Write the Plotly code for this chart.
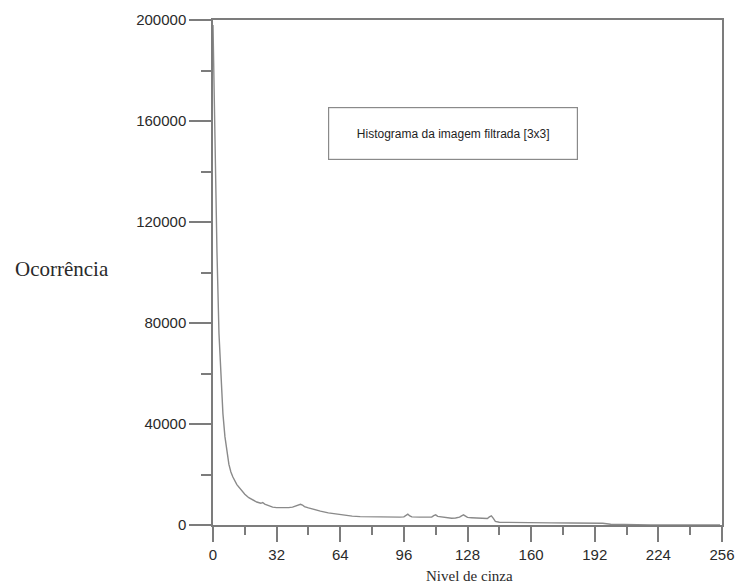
import plotly.graph_objects as go

# Data
gray_levels = [0, 1, 2, 3, 4, 5, 6, 7, 8, 9, 10, 12, 14, 16, 18, 20, 22, 24, 25, 26, 28, 30,
               32, 34, 36, 38, 40, 42, 43, 44, 45, 46, 48, 50, 54, 58, 62, 66, 70, 74, 78,
               82, 86, 90, 94, 96, 97, 98, 99, 100, 104, 108, 110, 111, 112, 113, 116, 120,
               122, 124, 125, 126, 127, 128, 130, 134, 138, 139, 140, 141, 142, 144, 150,
               160, 170, 180, 190, 196, 200, 210, 220, 230, 240, 255]
occurrences = [198000, 150000, 108000, 76000, 58000, 44000, 35000, 28500, 24000, 21000,
               19000, 16000, 13900, 12200, 10800, 9800, 9100, 8600, 8900, 8300, 7600, 7100,
               6900, 6800, 6800, 6900, 7100, 7500, 8000, 8200, 7900, 7300, 6800, 6300, 5500,
               4800, 4300, 3900, 3500, 3300, 3200, 3100, 3100, 3100, 3100, 3200, 3600, 4300,
               3600, 3200, 3100, 3000, 3100, 3700, 4000, 3400, 3000, 2700, 2800, 3100, 3600,
               4000, 3500, 3000, 2900, 2700, 2600, 3200, 3600, 2600, 1400, 1100, 1000, 900,
               850, 800, 750, 700, 300, 100, 50, 0, 0, 0]

x_ticks = [0, 32, 64, 96, 128, 160, 192, 224, 256]
y_ticks = [0, 40000, 80000, 120000, 160000, 200000]

legend_text = "Histograma da imagem filtrada [3x3]"
x_title = "Nivel de cinza"
y_title = "Ocorrência"

axis_color = "#7c7c7c"
text_color = "#2a2a2a"

fig = go.Figure()
fig.add_trace(go.Scatter(
    x=gray_levels, y=occurrences, mode="lines",
    line=dict(color="#8a8a8a", width=1.4),
    showlegend=False, hoverinfo="skip",
))

fig.update_layout(
    width=738, height=585,
    margin=dict(l=213, r=16, t=20, b=60),
    paper_bgcolor="white", plot_bgcolor="white",
    font=dict(family="Liberation Sans, Arial, sans-serif", size=15, color=text_color),
    xaxis=dict(
        range=[0, 256], tickvals=x_ticks, ticktext=[str(v) for v in x_ticks],
        showgrid=False, zeroline=False, automargin=False,
        showline=True, linecolor=axis_color, linewidth=1.5, mirror=True,
        ticks="outside", ticklen=15, tickwidth=1.5, tickcolor=axis_color,
        minor=dict(dtick=16, ticks="outside", ticklen=8, tickwidth=1.5, tickcolor=axis_color),
        tickfont=dict(size=15, color=text_color),
    ),
    yaxis=dict(
        range=[0, 200000], tickvals=y_ticks, ticktext=[str(v) for v in y_ticks],
        showgrid=False, zeroline=False, automargin=False,
        showline=True, linecolor=axis_color, linewidth=1.5, mirror=True,
        ticks="outside", ticklen=22, tickwidth=1.5, tickcolor=axis_color,
        minor=dict(dtick=20000, ticks="outside", ticklen=10, tickwidth=1.5, tickcolor=axis_color),
        tickfont=dict(size=15, color=text_color),
    ),
    annotations=[
        dict(text=legend_text, xref="paper", yref="paper", x=0.4715, y=0.775,
             xanchor="center", yanchor="middle", showarrow=False,
             font=dict(family="Liberation Sans, Arial, sans-serif", size=12, color="#1e1e1e"),
             bordercolor="#8a8a8a", borderwidth=1.2, width=246, height=49, bgcolor="white"),
        dict(text=y_title, xref="paper", yref="paper", x=-0.2967, y=0.507,
             xanchor="center", yanchor="middle", showarrow=False,
             font=dict(family="Liberation Serif, Times New Roman, serif", size=21, color=text_color)),
        dict(text=x_title, xref="paper", yref="paper", x=0.503, y=-0.101,
             xanchor="center", yanchor="middle", showarrow=False,
             font=dict(family="Liberation Serif, Times New Roman, serif", size=15, color=text_color)),
    ],
)

# Remove the default 8px page margin so the figure fills the window exactly.
fig.write_html(
    "out.html",
    config={"displayModeBar": False},
    post_script="document.body.style.margin='0';document.body.style.overflow='hidden';",
)
